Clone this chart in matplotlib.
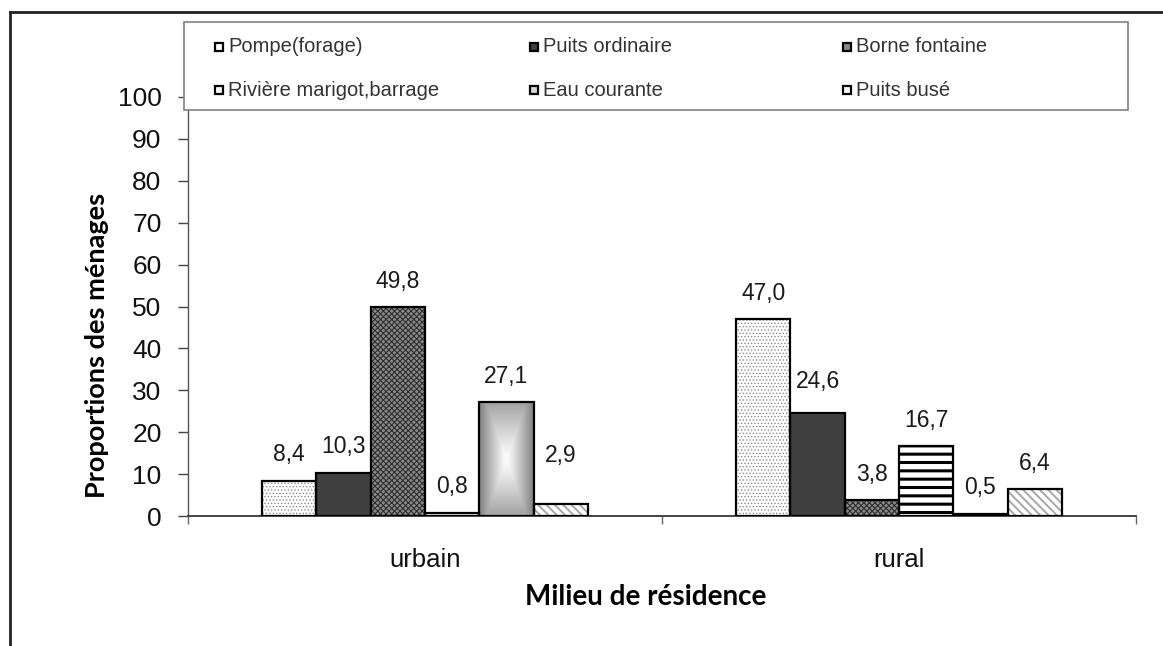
import numpy as np
import matplotlib
matplotlib.use("Agg")
import matplotlib.pyplot as plt
from matplotlib.patches import Rectangle
from matplotlib.lines import Line2D
from matplotlib.ticker import FixedLocator, NullFormatter

# --- data -------------------------------------------------------------
categories = ["urbain", "rural"]
sources = ["Pompe(forage)", "Puits ordinaire", "Borne fontaine",
           "Rivière marigot,barrage", "Eau courante", "Puits busé"]
urbain = [8.4, 10.3, 49.8, 0.8, 27.1, 2.9]
rural = [47.0, 24.6, 3.8, 16.7, 0.5, 6.4]
yticks = [0, 10, 20, 30, 40, 50, 60, 70, 80, 90, 100]
ylabel = "Proportions des ménages"
xlabel = "Milieu de résidence"

values = np.array([urbain, rural])  # shape (category, source)

# --- styling ----------------------------------------------------------
# (face colour, hatch, hatch colour, hatch line width); None face -> gradient
styles = [
    ("#ffffff", ".....", "#8c8c8c", 0.6),
    ("#404040", None, None, 0),
    ("#8a8a8a", "xxxxxx", "#2e2e2e", 0.8),
    ("#ffffff", "--", "#000000", 2.2),
    (None, None, None, 0),
    ("#ffffff", "\\\\\\\\", "#a8a8a8", 1.4),
]
# extra lift (pixels) for labels that sit higher than the rest
label_lift = {(0, 5): 48, (1, 1): 31}

plt.rcParams["font.family"] = ["Liberation Sans", "DejaVu Sans"]

W, H = 1163, 646
fig = plt.figure(figsize=(W / 100, H / 100), dpi=100)
ax = fig.add_axes([188 / W, 1 - 516 / H, (1136 - 188) / W, (516 - 97) / H])

n = len(sources)
bw = 0.1146
x = np.arange(len(categories))
offsets = (np.arange(n) - (n - 1) / 2) * bw


def gradient_fill(ax, x0, x1, h):
    """Grey rectangular gradient, white in the middle and darker at the edges."""
    u = np.linspace(-1, 1, 60)
    v = np.linspace(-1, 1, 120)
    U, V = np.meshgrid(u, v)
    d = np.maximum(np.abs(U), np.abs(V) * 0.75)
    g = 1.0 - 0.50 * d ** 1.1
    img = np.dstack([g, g, g])
    im = ax.imshow(img, extent=(x0, x1, 0, h), aspect="auto",
                   interpolation="bilinear", zorder=2)
    clip = Rectangle((x0, 0), x1 - x0, h, transform=ax.transData)
    im.set_clip_path(clip)


for j, (face, hatch, hcol, hlw) in enumerate(styles):
    xs = x + offsets[j]
    hs = values[:, j]
    if face is None:
        for xc, h in zip(xs, hs):
            gradient_fill(ax, xc - bw / 2, xc + bw / 2, h)
    else:
        ax.bar(xs, hs, bw, color=face, linewidth=0, zorder=2)
        if hatch:
            hb = ax.bar(xs, hs, bw, color="none", edgecolor=hcol,
                        hatch=hatch, linewidth=0, zorder=2.5)
            for p in hb:
                if hasattr(p, "set_hatch_linewidth"):
                    p.set_hatch_linewidth(hlw)
    ax.bar(xs, hs, bw, color="none", edgecolor="#000000", linewidth=1.6,
           zorder=3)
    for i, (xc, h) in enumerate(zip(xs, hs)):
        lift = label_lift.get((i, j), 26)
        ax.annotate(f"{h:.1f}".replace(".", ","), (xc, h),
                    xytext=(0, lift), textcoords="offset pixels",
                    ha="center", va="center", fontsize=16.5, color="#1a1a1a")

ax.set_xlim(-0.5, len(categories) - 0.5)
ax.set_ylim(0, 100)
ax.set_yticks(yticks)
ax.tick_params(axis="y", direction="out", length=7, width=1, color="#444444",
               labelsize=19, pad=12, labelcolor="#111111")

ax.xaxis.set_major_locator(FixedLocator([-0.5, 0.5, 1.5]))
ax.xaxis.set_major_formatter(NullFormatter())
ax.xaxis.set_minor_locator(FixedLocator(list(x)))
ax.set_xticklabels(categories, minor=True)
ax.tick_params(axis="x", which="major", direction="out", length=6, width=1,
               color="#666666")
ax.tick_params(axis="x", which="minor", length=0, labelsize=18.5, pad=23,
               labelcolor="#111111")

for s in ("top", "right"):
    ax.spines[s].set_visible(False)
ax.spines["left"].set_color("#555555")
ax.spines["bottom"].set_color("#444444")
ax.spines["left"].set_linewidth(1)
ax.spines["bottom"].set_linewidth(1.4)

fig.text(97 / W, 1 - 345 / H, ylabel, rotation=90, ha="center", va="center",
         fontsize=19.5, fontweight="bold", family=["Lato", "DejaVu Sans"])
fig.text(646 / W, 1 - 597 / H, xlabel, ha="center", va="center",
         fontsize=20, fontweight="bold", family=["Lato", "DejaVu Sans"])

# --- legend -----------------------------------------------------------
def fx(px):
    return px / W


def fy(py):
    return 1 - py / H


fig.patches.append(Rectangle((fx(184), fy(110)), fx(1128) - fx(184),
                             fy(22) - fy(110), transform=fig.transFigure,
                             facecolor="white", edgecolor="#808080",
                             linewidth=1.2))
col_x = [215, 530, 843]
row_y = [47, 90]
sq = 8
for j, (face, hatch, hcol, hlw) in enumerate(styles):
    r, c = divmod(j, 3)
    px, py = col_x[c], row_y[r]
    face_l = "#d8d8d8" if face is None else face
    fig.patches.append(Rectangle((fx(px), fy(py + sq / 2)), fx(sq),
                                 fy(0) - fy(sq), facecolor=face_l,
                                 edgecolor="#000000", linewidth=1.6,
                                 transform=fig.transFigure))
    fig.text(fx(px + sq + 5), fy(py), sources[j], ha="left", va="center",
             fontsize=14.5, color="#333333")

# outer frame of the figure (top and left edges)
fig.add_artist(Line2D([fx(10), 1.0], [fy(12), fy(12)],
                      transform=fig.transFigure, color="#222222", lw=2))
fig.add_artist(Line2D([fx(10), fx(10)], [fy(12), 0.0],
                      transform=fig.transFigure, color="#222222", lw=2))

fig.savefig("out.png", dpi=100, facecolor="white")
